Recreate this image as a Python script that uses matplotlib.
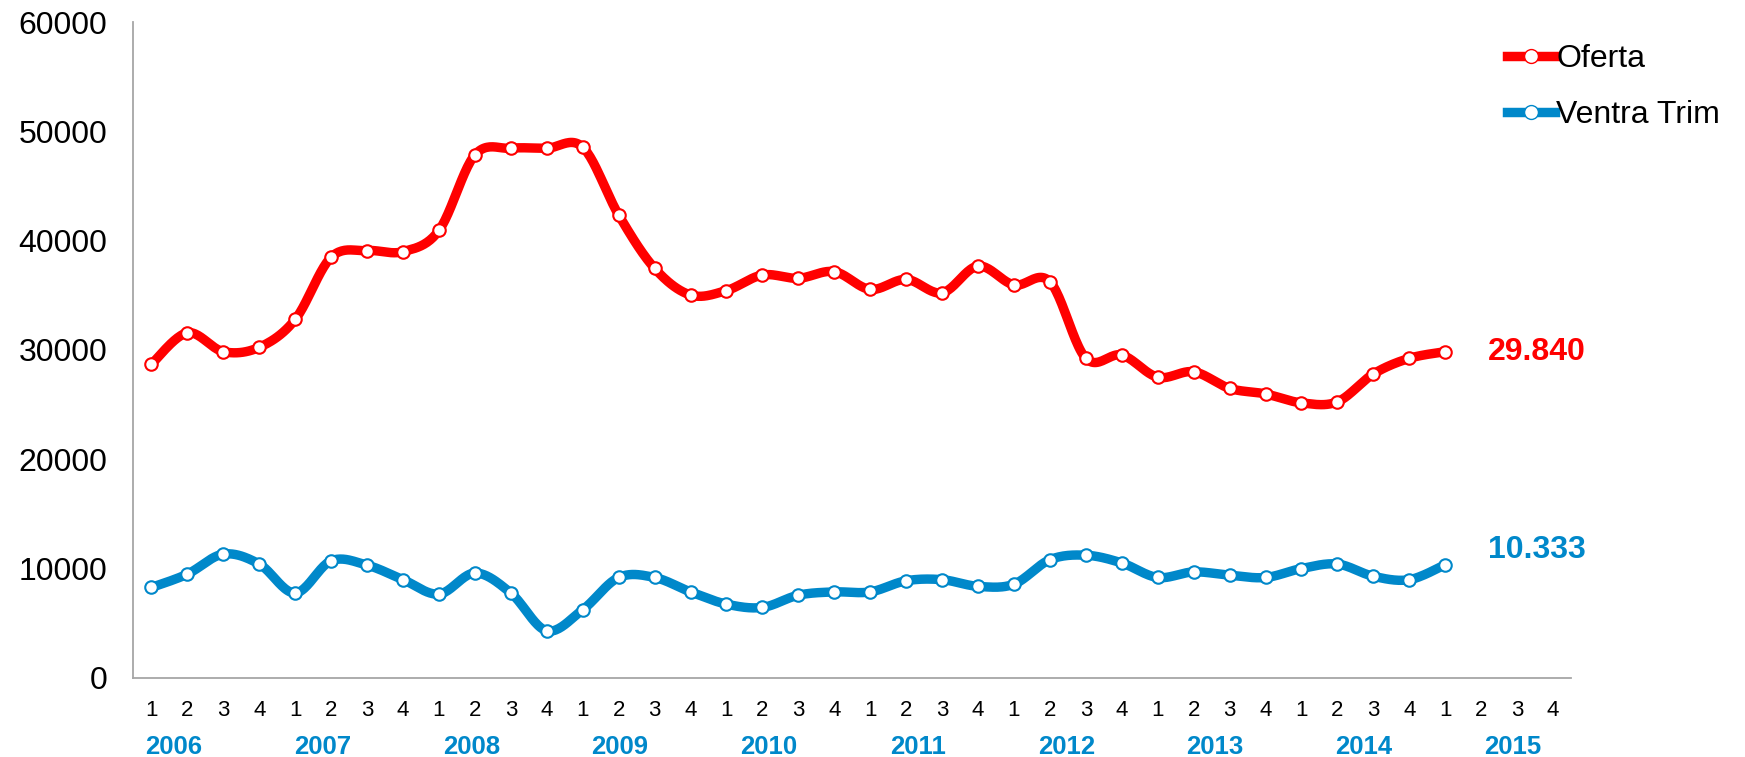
import numpy as np
import matplotlib
matplotlib.use("Agg")
import matplotlib.pyplot as plt
from matplotlib.lines import Line2D

plt.rcParams["font.family"] = ["Liberation Sans", "DejaVu Sans"]

YEARS = ["2006", "2007", "2008", "2009", "2010", "2011", "2012", "2013", "2014", "2015"]
QUARTERS = ["1", "2", "3", "4"]

OFERTA = [28700, 31570, 29840, 30240, 32790, 38490, 39100, 39000,
          40940, 47860, 48470, 48470, 48570, 42360, 37470, 35030,
          35440, 36860, 36560, 37170, 35540, 36460, 35230, 37680,
          35950, 36250, 29230, 29530, 27500, 28000, 26480, 25970,
          25150, 25250, 27800, 29230, 29840]
VENTAS = [8250, 9470, 11300, 10390, 7740, 10690, 10290, 8960,
          7640, 9570, 7740, 4280, 6210, 9160, 9160, 7840,
          6720, 6420, 7540, 7840, 7840, 8860, 8960, 8350,
          8550, 10790, 11200, 10490, 9160, 9670, 9370, 9160,
          9980, 10390, 9270, 8960, 10333]

RED = "#FF0000"
BLUE = "#0088CA"
AXIS = "#A6A6A6"


def smooth(y, n=24):
    # Excel-style smoothed line: uniform Catmull-Rom through the points
    y = np.asarray(y, dtype=float)
    x = np.arange(len(y), dtype=float)
    xs, ys = [], []
    for i in range(len(y) - 1):
        i0, i3 = max(i - 1, 0), min(i + 2, len(y) - 1)
        t = np.linspace(0, 1, n, endpoint=False)
        for arr, out in ((x, xs), (y, ys)):
            p0, p1, p2, p3 = arr[i0], arr[i], arr[i + 1], arr[i3]
            out.append(0.5 * ((2 * p1) + (-p0 + p2) * t
                              + (2 * p0 - 5 * p1 + 4 * p2 - p3) * t ** 2
                              + (-p0 + 3 * p1 - 3 * p2 + p3) * t ** 3))
    xs.append([x[-1]])
    ys.append([y[-1]])
    return np.concatenate(xs), np.concatenate(ys)


fig = plt.figure(figsize=(17.45, 7.57), dpi=100)
ax = fig.add_axes([0.0765, 0.105, 0.8238, 0.8655])

for vals, col in ((OFERTA, RED), (VENTAS, BLUE)):
    sx, sy = smooth(vals)
    ax.plot(sx, sy, color=col, lw=6.8, solid_capstyle="round", zorder=2)
    ax.plot(np.arange(len(vals)), vals, ls="none", marker="o", ms=9,
            mfc="white", mec=col, mew=1.5, zorder=3)

n_cat = len(YEARS) * len(QUARTERS)
ax.set_xlim(-0.5, n_cat - 0.5)
ax.set_ylim(0, 60000)
ax.set_yticks(np.arange(0, 60001, 10000))
ax.tick_params(axis="y", length=0, labelsize=23, pad=19)
ax.set_xticks(np.arange(n_cat))
ax.set_xticklabels(QUARTERS * len(YEARS), fontsize=16)
ax.tick_params(axis="x", length=0, pad=16)
for s in ("top", "right"):
    ax.spines[s].set_visible(False)
for s in ("left", "bottom"):
    ax.spines[s].set_color(AXIS)
    ax.spines[s].set_linewidth(1.3)

# year row under the quarter numbers
for k, yr in enumerate(YEARS):
    ax.annotate(yr, xy=(0.62 + 4.14 * k, 0), xycoords=ax.get_xaxis_transform(),
                xytext=(0, -55), textcoords="offset points",
                ha="center", va="baseline", fontsize=18.5, fontweight="bold", color=BLUE,
                annotation_clip=False)

# last values
ax.annotate("29.840", xy=(37.2, OFERTA[-1]), ha="left", va="center",
            fontsize=23, fontweight="bold", color=RED, annotation_clip=False)
ax.annotate("10.333", xy=(37.2, VENTAS[-1]), xytext=(0, 10.5), textcoords="offset points",
            ha="left", va="center", fontsize=23, fontweight="bold", color=BLUE,
            annotation_clip=False)

handles = [Line2D([], [], color=RED, lw=6.8, marker="o", ms=10, mfc="white", mec=RED),
           Line2D([], [], color=BLUE, lw=6.8, marker="o", ms=10, mfc="white", mec=BLUE)]
fig.legend(handles, ["Oferta", "Ventra Trim"], loc="upper left",
           bbox_to_anchor=(0.847, 0.98), frameon=False, fontsize=23,
           handlelength=1.5, handletextpad=0.05, labelspacing=0.82, markerscale=1)

fig.savefig("out.png", dpi=100, facecolor="white")
